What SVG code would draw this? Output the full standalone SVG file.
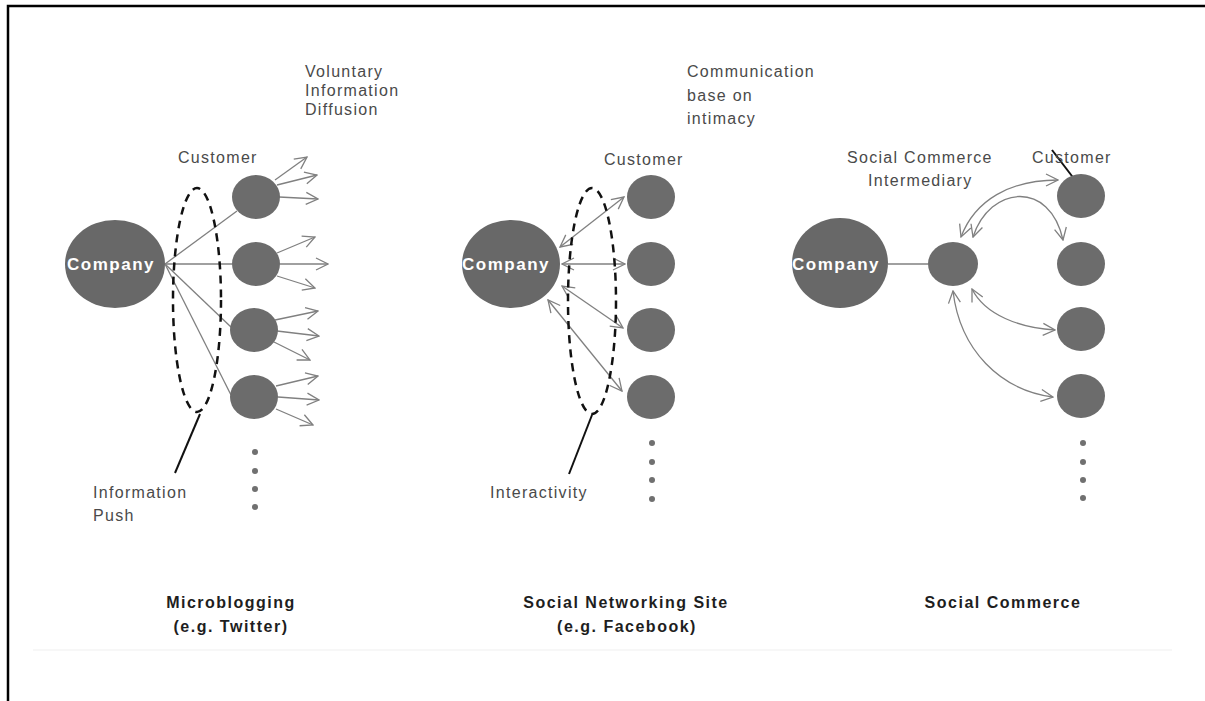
<svg xmlns="http://www.w3.org/2000/svg" width="1205" height="701" viewBox="0 0 1205 701">
  <style>
    .frame { stroke: #000; stroke-width: 2.5; fill: none; }
    .hub { fill: #686868; }
    .cust { fill: #6c6c6c; }
    .dot { fill: #707070; }
    .hubtxt { font-family: "Liberation Sans", Arial, sans-serif; font-weight: bold; font-size: 17px; letter-spacing: 1.5px; fill: #fff; text-anchor: middle; }
    .lbl { font-family: "Liberation Sans", Arial, sans-serif; font-size: 16px; letter-spacing: 1.3px; fill: #4a4a4a; }
    .title { font-family: "Liberation Sans", Arial, sans-serif; font-weight: bold; font-size: 16px; letter-spacing: 1.5px; fill: #1e1e1e; text-anchor: middle; }
    .group { fill: none; stroke: #111; stroke-width: 2.5; stroke-dasharray: 8 6; }
    .pointer { stroke: #111; stroke-width: 2; fill: none; }
    .push { stroke: #808080; stroke-width: 1.3; fill: none; }
    .flow { stroke: #808080; stroke-width: 1.3; fill: none; marker-end: url(#vee); }
    .both { stroke: #808080; stroke-width: 1.3; fill: none; marker-start: url(#vee); marker-end: url(#vee); }
  </style>
  <defs>
    <marker id="vee" viewBox="0 0 14 14" refX="13" refY="7" markerWidth="14" markerHeight="14" markerUnits="userSpaceOnUse" orient="auto-start-reverse">
      <path d="M1,1 L13,7 L1,13" fill="none" stroke="#808080" stroke-width="1.3"/>
    </marker>
  </defs>

  <rect width="1205" height="701" fill="#fff"/>
  <!-- page frame: top and left rules -->
  <path class="frame" d="M8,701 V6 H1205"/>
  <line x1="33" y1="650" x2="1172" y2="650" stroke="#efefef" stroke-width="1"/>

  <!-- ===== connectors ===== -->
  <g id="connectors">
    <!-- microblogging: company pushes to customers -->
    <line class="push" x1="165" y1="264" x2="237" y2="211"/>
    <line class="push" x1="165" y1="264" x2="232" y2="264"/>
    <line class="push" x1="165" y1="264" x2="232" y2="328"/>
    <line class="push" x1="165" y1="264" x2="231" y2="395"/>
    <!-- voluntary diffusion from each customer -->
    <line class="flow" x1="275" y1="180" x2="307" y2="157"/>
    <line class="flow" x1="277" y1="185" x2="317" y2="175"/>
    <line class="flow" x1="279" y1="197" x2="318" y2="199"/>
    <line class="flow" x1="277" y1="253" x2="315" y2="237"/>
    <line class="flow" x1="280" y1="264" x2="328" y2="264"/>
    <line class="flow" x1="277" y1="276" x2="315" y2="288"/>
    <line class="flow" x1="275" y1="320" x2="318" y2="311"/>
    <line class="flow" x1="277" y1="331" x2="319" y2="336"/>
    <line class="flow" x1="274" y1="342" x2="310" y2="360"/>
    <line class="flow" x1="276" y1="386" x2="318" y2="376"/>
    <line class="flow" x1="278" y1="397" x2="319" y2="400"/>
    <line class="flow" x1="276" y1="409" x2="313" y2="425"/>
    <line class="pointer" x1="200" y1="414" x2="175" y2="473"/>

    <!-- social networking: two-way interaction -->
    <line class="both" x1="560" y1="247" x2="624" y2="197"/>
    <line class="both" x1="562" y1="264" x2="625" y2="264"/>
    <line class="both" x1="562" y1="286" x2="623" y2="328"/>
    <line class="both" x1="548" y1="300" x2="622" y2="391"/>
    <line class="pointer" x1="592" y1="415" x2="569" y2="474"/>

    <!-- social commerce: via intermediary -->
    <line class="push" x1="888" y1="264" x2="928" y2="264"/>
    <path class="both" d="M961,237 C975,200 1010,180 1058,180"/>
    <path class="both" d="M973,237 C990,185 1050,180 1063,240"/>
    <path class="both" d="M972,289 C985,315 1020,328 1055,330"/>
    <path class="both" d="M953,291 C960,350 1000,390 1053,397"/>
    <line class="pointer" x1="1052" y1="150" x2="1075" y2="180"/>
  </g>

  <!-- ===== panel 1: microblogging ===== -->
  <g id="p1-company">
    <ellipse class="hub" cx="115" cy="264" rx="50" ry="44"/>
    <text class="hubtxt" x="111" y="270">Company</text>
  </g>
  <g id="p1-customers">
    <ellipse class="cust" cx="256" cy="197" rx="24" ry="22"/>
    <ellipse class="cust" cx="256" cy="264" rx="24" ry="22"/>
    <ellipse class="cust" cx="254" cy="330" rx="24" ry="22"/>
    <ellipse class="cust" cx="254" cy="397" rx="24" ry="22"/>
    <circle class="dot" cx="255" cy="452" r="3"/>
    <circle class="dot" cx="255" cy="471" r="3"/>
    <circle class="dot" cx="255" cy="489" r="3"/>
    <circle class="dot" cx="255" cy="507" r="3"/>
    <text class="lbl" x="178" y="163">Customer</text>
  </g>
  <g id="p1-push">
    <ellipse class="group" cx="197" cy="300" rx="24" ry="112"/>
    <text class="lbl" x="93" y="498">Information</text>
    <text class="lbl" x="93" y="521">Push</text>
  </g>
  <g id="p1-diffusion">
    <text class="lbl" x="305" y="77">Voluntary</text>
    <text class="lbl" x="305" y="96">Information</text>
    <text class="lbl" x="305" y="115">Diffusion</text>
  </g>
  <g id="p1-title">
    <text class="title" x="231" y="608">Microblogging</text>
    <text class="title" x="231" y="632">(e.g. Twitter)</text>
  </g>

  <!-- ===== panel 2: social networking site ===== -->
  <g id="p2-company">
    <ellipse class="hub" cx="511" cy="264" rx="49" ry="44"/>
    <text class="hubtxt" x="506" y="270">Company</text>
  </g>
  <g id="p2-customers">
    <ellipse class="cust" cx="651" cy="197" rx="24" ry="22"/>
    <ellipse class="cust" cx="651" cy="264" rx="24" ry="22"/>
    <ellipse class="cust" cx="651" cy="330" rx="24" ry="22"/>
    <ellipse class="cust" cx="651" cy="397" rx="24" ry="22"/>
    <circle class="dot" cx="652" cy="443" r="3"/>
    <circle class="dot" cx="652" cy="462" r="3"/>
    <circle class="dot" cx="652" cy="480" r="3"/>
    <circle class="dot" cx="652" cy="499" r="3"/>
    <text class="lbl" x="604" y="165">Customer</text>
  </g>
  <g id="p2-interactivity">
    <ellipse class="group" cx="592" cy="301" rx="24" ry="113"/>
    <text class="lbl" x="490" y="498">Interactivity</text>
  </g>
  <g id="p2-intimacy">
    <text class="lbl" x="687" y="77">Communication</text>
    <text class="lbl" x="687" y="101">base on</text>
    <text class="lbl" x="687" y="124">intimacy</text>
  </g>
  <g id="p2-title">
    <text class="title" x="626" y="608">Social Networking Site</text>
    <text class="title" x="627" y="632">(e.g. Facebook)</text>
  </g>

  <!-- ===== panel 3: social commerce ===== -->
  <g id="p3-company">
    <ellipse class="hub" cx="840" cy="263" rx="48" ry="45"/>
    <text class="hubtxt" x="836" y="270">Company</text>
  </g>
  <g id="p3-intermediary">
    <ellipse class="cust" cx="953" cy="264" rx="25" ry="22"/>
    <text class="lbl" x="847" y="163">Social Commerce</text>
    <text class="lbl" x="868" y="186">Intermediary</text>
  </g>
  <g id="p3-customers">
    <ellipse class="cust" cx="1081" cy="196" rx="24" ry="22"/>
    <ellipse class="cust" cx="1081" cy="264" rx="24" ry="22"/>
    <ellipse class="cust" cx="1081" cy="329" rx="24" ry="22"/>
    <ellipse class="cust" cx="1081" cy="396" rx="24" ry="22"/>
    <circle class="dot" cx="1083" cy="443" r="3"/>
    <circle class="dot" cx="1083" cy="462" r="3"/>
    <circle class="dot" cx="1083" cy="480" r="3"/>
    <circle class="dot" cx="1083" cy="498" r="3"/>
    <text class="lbl" x="1032" y="163">Customer</text>
  </g>
  <g id="p3-title">
    <text class="title" x="1003" y="608">Social Commerce</text>
  </g>
</svg>
